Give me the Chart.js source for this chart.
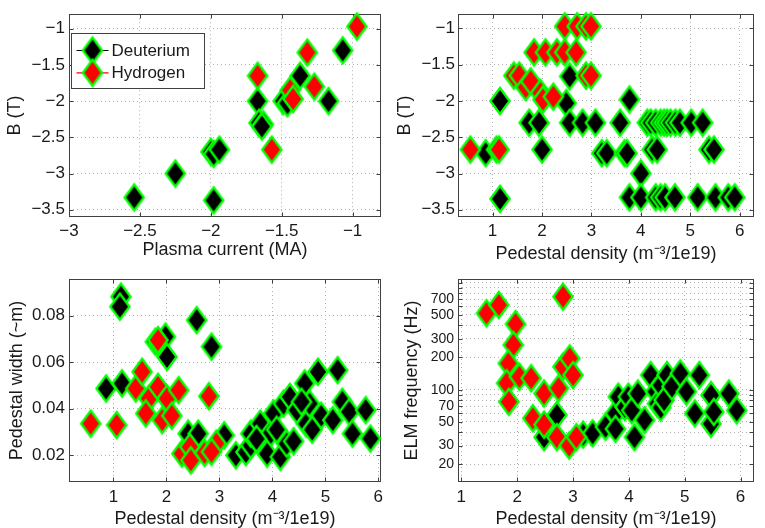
<!DOCTYPE html>
<html>
<head>
<meta charset="utf-8">
<script src="https://cdn.jsdelivr.net/npm/chart.js@4.4.0/dist/chart.umd.min.js"></script>
<style>
  html, body { margin: 0; padding: 0; background: #fff; }
  #wrap { position: relative; width: 765px; height: 528px; overflow: hidden; }
  #wrap canvas { position: absolute; }
</style>
</head>
<body>
<div id="wrap">
  <canvas id="cA" width="392" height="264" style="left:0;top:0"></canvas>
  <canvas id="cB" width="373" height="264" style="left:392px;top:0"></canvas>
  <canvas id="cC" width="392" height="264" style="left:0;top:264px"></canvas>
  <canvas id="cD" width="373" height="264" style="left:392px;top:264px"></canvas>
</div>
<script>
// ---- data ----
// panel A: B vs plasma current
const currentD = [-2.54, -2.25, -1.98, -2.00, -1.98, -1.94, -1.67, -1.66, -1.63, -1.64, -1.49, -1.46, -1.37, -1.17, -1.07];
const fieldD_A = [-3.33, -3.00, -3.37, -2.70, -2.73, -2.67, -2.00, -2.30, -2.32, -2.35, -2.00, -2.03, -1.65, -2.00, -1.30];
const currentH = [-1.67, -1.44, -1.42, -1.32, -1.27, -1.57, -0.97];
const fieldH_A = [-1.65, -1.85, -1.97, -1.33, -1.80, -2.67, -0.97];

// panel B: B vs pedestal density
const densityD_B = [0.86, 1.15, 1.15, 1.74, 1.94, 2.00, 2.49, 2.56, 2.56, 2.82, 3.08, 3.21, 3.31, 3.58, 3.67, 3.72, 3.77, 3.77, 4.00, 4.00,
                    4.13, 4.20, 4.30, 4.40, 4.47, 4.53, 4.60, 4.70, 4.79, 4.23, 4.33, 4.30, 4.40, 4.49, 4.69, 5.02, 5.25, 5.15, 5.38, 5.48,
                    5.51, 5.77, 5.90];
const fieldD_B = [-2.72, -2.00, -3.35, -2.30, -2.30, -2.67, -2.03, -1.66, -2.30, -2.30, -2.30, -2.72, -2.72, -2.30, -2.72, -2.72, -1.98, -3.33, -3.00, -3.33,
                  -2.30, -2.30, -2.30, -2.30, -2.30, -2.30, -2.30, -2.30, -2.30, -2.67, -2.67, -3.33, -3.33, -3.33, -3.33, -2.30, -2.30, -3.33, -2.67, -2.67,
                  -3.33, -3.33, -3.33];
const densityH_B = [0.55, 1.08, 1.13, 1.43, 1.54, 1.67, 1.77, 1.97, 2.02, 2.23, 1.84, 2.07, 2.30, 2.46, 2.69, 2.46, 2.71, 2.89, 2.99, 2.89, 2.99];
const fieldH_B = [-2.67, -2.67, -2.67, -1.65, -1.65, -1.81, -1.73, -1.89, -1.98, -1.94, -1.33, -1.33, -1.33, -1.33, -1.33, -0.97, -0.97, -0.97, -0.97, -1.65, -1.65];

// panel C: pedestal width vs pedestal density
const densityD_C = [0.86, 1.16, 1.14, 1.12, 1.79, 1.85, 1.98, 2.01, 2.57, 2.85, 2.41, 2.60, 3.09, 3.31, 3.50, 3.59, 3.59, 3.77, 3.77, 3.96,
                    3.90, 4.02, 4.08, 4.15, 4.21, 4.27, 4.33, 4.46, 4.61, 4.64, 4.70, 4.86, 4.92, 5.14, 5.23, 5.32, 5.45, 5.51, 5.76, 5.85,
                    3.70, 4.40, 4.55, 4.75];
const widthD_C = [0.0487, 0.0509, 0.0882, 0.0839, 0.0688, 0.0680, 0.0710, 0.0623, 0.0781, 0.0667, 0.0293, 0.0293, 0.0286, 0.0200, 0.0214, 0.0243, 0.0293, 0.0336, 0.0250, 0.0293,
                  0.0207, 0.0380, 0.0310, 0.0193, 0.0422, 0.0250, 0.0451, 0.0394, 0.0509, 0.0336, 0.0422, 0.0559, 0.0370, 0.0351, 0.0566, 0.0430, 0.0387, 0.0293, 0.0394, 0.0272,
                  0.0270, 0.0260, 0.0430, 0.0310];
const densityH_C = [0.57, 1.06, 1.42, 1.54, 1.67, 1.61, 1.84, 1.84, 2.01, 1.92, 2.23, 2.10, 2.29, 2.44, 2.46, 2.72, 2.80, 2.94, 2.85];
const widthH_C = [0.0336, 0.0330, 0.0487, 0.0559, 0.0444, 0.0380, 0.0695, 0.0494, 0.0444, 0.0351, 0.0480, 0.0370, 0.0207, 0.0236, 0.0178, 0.0210, 0.0454, 0.0250, 0.0215];

// panel D: ELM frequency vs pedestal density
const densityD_D = [2.71, 2.48, 3.18, 3.35, 3.58, 3.76, 3.76, 3.81, 3.93, 3.99, 4.05, 4.10, 4.16, 4.28, 4.39, 4.48, 4.51, 4.57, 4.57, 4.63,
                    4.68, 4.77, 4.92, 5.03, 5.18, 5.26, 5.47, 5.47, 5.52, 5.79, 5.93];
const elmD_D = [58, 36, 38, 39, 45, 60, 43, 86, 69, 86, 64, 36, 92, 52, 137, 96, 74, 68, 110, 80,
                137, 107, 142, 96, 60, 137, 89, 48, 62, 92, 64];
const densityH_D = [1.45, 1.67, 1.97, 1.93, 1.84, 1.81, 1.85, 2.04, 2.25, 2.28, 2.48, 2.48, 2.74, 2.82, 2.94, 3.00, 2.71, 2.93, 2.82, 3.06];
const elmH_D = [518, 620, 411, 262, 176, 115, 77, 132, 128, 54, 92, 47, 103, 164, 196, 137, 36, 30, 741, 36];

// tick labels
const currentTicks = [-3, -2.5, -2, -1.5, -1];
const fieldTicks = [-3.5, -3, -2.5, -2, -1.5, -1];
const densityTicks = [1, 2, 3, 4, 5, 6];
const widthTicks = [0.02, 0.04, 0.06, 0.08];
const elmGrid = [20, 30, 40, 50, 60, 70, 80, 90, 100, 200, 300, 400, 500, 600, 700, 800, 900, 1000];
const elmTickLabels = [20, 30, 50, 70, 100, 200, 300, 500, 700];

const seriesNames = ['Deuterium', 'Hydrogen'];

// ---- styling ----
Chart.defaults.font.family = '"Liberation Sans", Arial, Helvetica, sans-serif';
Chart.defaults.color = '#1a1a1a';
const textColor = '#1a1a1a';
const frameColor = '#404040';
const gridColor = '#b0b0b0';

// matlab style diamond marker (taller than wide, lime edge)
function diamond(fill) {
  const c = document.createElement('canvas');
  c.width = 26; c.height = 34;
  const g = c.getContext('2d');
  g.beginPath();
  g.moveTo(13, 17 - 13);
  g.lineTo(13 + 9.6, 17);
  g.lineTo(13, 17 + 13);
  g.lineTo(13 - 9.6, 17);
  g.closePath();
  g.fillStyle = fill;
  g.fill();
  g.lineWidth = 2.4;
  g.lineJoin = 'miter';
  g.strokeStyle = '#00ff00';
  g.stroke();
  return c;
}
const markD = diamond('#000000');
const markH = diamond('#ff0000');

function pts(xs, ys) {
  return xs.map((x, i) => ({x: x, y: ys[i]}));
}

function minus(v) {
  return String(v).replace('-', '\u2212');
}

const framePlugin = {
  id: 'frame',
  beforeDatasetsDraw(chart) {
    const {ctx, chartArea: a} = chart;
    const L = Math.round(a.left) + 0.5, R = Math.round(a.right) - 0.5;
    const T = Math.round(a.top) + 0.5, B = Math.round(a.bottom) - 0.5;
    ctx.save();
    ctx.strokeStyle = frameColor;
    ctx.lineWidth = 1;
    ctx.strokeRect(L, T, R - L, B - T);
    const tl = 4;
    ctx.beginPath();
    chart.scales.x.ticks.forEach(t => {
      const p = Math.round(chart.scales.x.getPixelForValue(t.value)) + 0.5;
      ctx.moveTo(p, B); ctx.lineTo(p, B - tl);
      ctx.moveTo(p, T); ctx.lineTo(p, T + tl);
    });
    chart.scales.y.ticks.forEach(t => {
      const p = Math.round(chart.scales.y.getPixelForValue(t.value)) + 0.5;
      ctx.moveTo(L, p); ctx.lineTo(L + tl, p);
      ctx.moveTo(R, p); ctx.lineTo(R - tl, p);
    });
    ctx.stroke();
    ctx.restore();
  }
};

const legendPlugin = {
  id: 'boxLegend',
  afterDatasetsDraw(chart) {
    const {ctx, chartArea: a} = chart;
    const x0 = Math.round(a.left) + 2.5, y0 = Math.round(a.top) + 19.5, w = 133, h = 55;
    ctx.save();
    ctx.fillStyle = '#ffffff';
    ctx.fillRect(x0, y0, w, h);
    ctx.strokeStyle = frameColor;
    ctx.lineWidth = 1;
    ctx.strokeRect(x0, y0, w, h);
    const byLabel = {};
    chart.data.datasets.forEach(d => { byLabel[d.label] = d; });
    seriesNames.forEach((name, i) => {
      const d = byLabel[name];
      const cy = y0 + 17 + i * 22.3;
      ctx.strokeStyle = d.legendLine;
      ctx.lineWidth = 1.2;
      ctx.beginPath();
      ctx.moveTo(x0 + 5, cy); ctx.lineTo(x0 + 37, cy);
      ctx.stroke();
      ctx.drawImage(d.pointStyle, x0 + 21 - 13, cy - 17);
      ctx.fillStyle = textColor;
      ctx.font = '17px "Liberation Sans", Arial, sans-serif';
      ctx.textBaseline = 'middle';
      ctx.textAlign = 'left';
      ctx.fillText(name, x0 + 40, cy + 1);
    });
    ctx.restore();
  }
};

function datasets(dD, dH) {
  return [
    {label: seriesNames[1], data: dH, pointStyle: markH, legendLine: '#ff0000', order: 0},
    {label: seriesNames[0], data: dD, pointStyle: markD, legendLine: '#000000', order: 1}
  ].map(d => Object.assign(d, {pointRadius: 10, pointHoverRadius: 10, showLine: false, clip: false,
                                backgroundColor: '#000', borderColor: '#00ff00'}));
}

function axis(cfg) {
  return {
    type: cfg.type || 'linear',
    min: cfg.min,
    max: cfg.max,
    afterBuildTicks: s => { s.ticks = cfg.grid.map(v => ({value: v})); },
    afterFit: s => { if (cfg.width) s.width = cfg.width; if (cfg.height) s.height = cfg.height; },
    grid: {color: gridColor, lineWidth: 1, drawTicks: false},
    border: {display: false, dash: [1, 3]},
    ticks: {
      padding: cfg.tickPad,
      autoSkip: false,
      maxRotation: 0,
      color: textColor,
      font: {size: cfg.tickSize || 17},
      callback: cfg.fmt
    },
    title: {
      display: true,
      text: cfg.title,
      color: textColor,
      font: {size: 18, lineHeight: 1},
      padding: cfg.titlePad
    }
  };
}

function makeChart(id, dD, dH, xCfg, yCfg, pad, plugins) {
  return new Chart(document.getElementById(id), {
    type: 'scatter',
    data: {datasets: datasets(dD, dH)},
    options: {
      responsive: false,
      animation: false,
      events: [],
      layout: {padding: pad},
      plugins: {legend: {display: false}, tooltip: {enabled: false}},
      scales: {x: axis(xCfg), y: axis(yCfg)}
    },
    plugins: plugins
  });
}

const densityTitle = 'Pedestal density (m\u207B\u00B3/1e19)';

// top left
makeChart('cA', pts(currentD, fieldD_A), pts(currentH, fieldH_A),
  {min: -3, max: -0.8, grid: currentTicks, fmt: v => minus(v), tickPad: 3.8, height: 47,
   title: 'Plasma current (MA)', titlePad: {top: 0, bottom: 4.5}},
  {min: -3.6, max: -0.8, grid: fieldTicks, fmt: v => minus(v), tickPad: 4, width: 69,
   title: 'B (T)', titlePad: {top: 6.5, bottom: 0}},
  {left: 0, top: 14, right: 6, bottom: 0}, [framePlugin, legendPlugin]);

// top right
makeChart('cB', pts(densityD_B, fieldD_B), pts(densityH_B, fieldH_B),
  {min: 0.3, max: 6.29, grid: densityTicks, fmt: v => String(v), tickPad: 3.8, height: 47,
   title: densityTitle, titlePad: {top: 0, bottom: 1.2}},
  {min: -3.6, max: -0.8, grid: fieldTicks, fmt: v => minus(v), tickPad: 3, width: 66,
   title: 'B (T)', titlePad: {top: 4.5, bottom: 0}},
  {left: 0, top: 14, right: 2, bottom: 0}, [framePlugin]);

// bottom left
makeChart('cC', pts(densityD_C, widthD_C), pts(densityH_C, widthH_C),
  {min: 0.16, max: 6.05, grid: densityTicks, fmt: v => String(v), tickPad: 5.6, height: 46,
   title: densityTitle, titlePad: {top: 0, bottom: 0.2}},
  {min: 0.0085, max: 0.0958, grid: widthTicks, fmt: v => v.toFixed(2), tickPad: 4, width: 69,
   title: 'Pedestal width (~m)', titlePad: {top: 8.5, bottom: 0}},
  {left: 0, top: 15, right: 7, bottom: 0}, [framePlugin]);

// bottom right
makeChart('cD', pts(densityD_D, elmD_D), pts(densityH_D, elmH_D),
  {min: 0.94, max: 6.24, grid: densityTicks, fmt: v => String(v), tickPad: 5.6, height: 46,
   title: densityTitle, titlePad: {top: 0, bottom: 0.2}},
  {type: 'logarithmic', min: 13.7, max: 1084, grid: elmGrid, tickSize: 14,
   fmt: v => (elmTickLabels.includes(v) ? String(v) : ''), tickPad: 4, width: 66,
   title: 'ELM frequency (Hz)', titlePad: {top: 11.5, bottom: 0}},
  {left: 0, top: 15, right: 2, bottom: 0}, [framePlugin]);
</script>
</body>
</html>
